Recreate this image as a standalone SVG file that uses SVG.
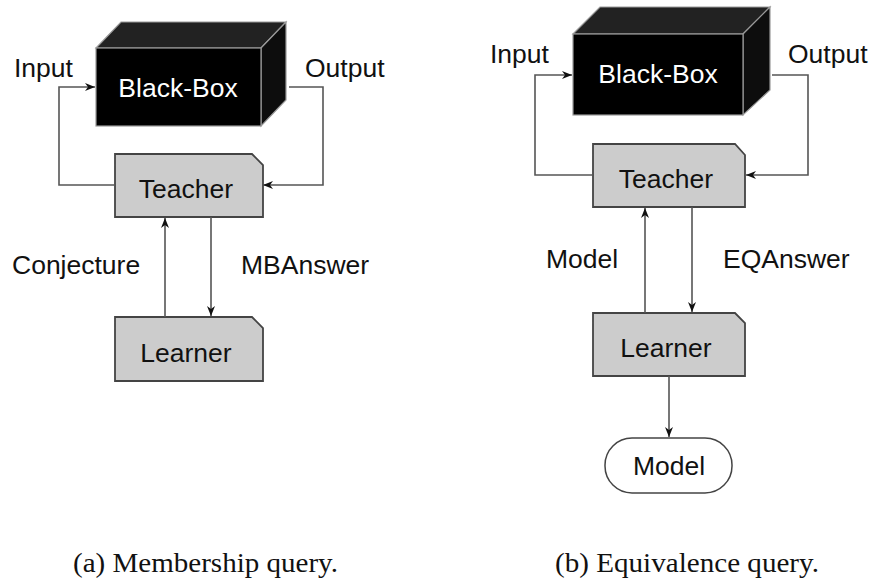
<svg xmlns="http://www.w3.org/2000/svg" width="874" height="581" viewBox="0 0 874 581">
  <defs>
    <style>
      .lbl { font-family: "Liberation Sans", Arial, sans-serif; font-size: 26.5px; fill: #111; }
      .wht { font-family: "Liberation Sans", Arial, sans-serif; font-size: 26.5px; fill: #fff; }
      .cap { font-family: "Liberation Serif", "Times New Roman", serif; font-size: 27px; fill: #111; }
      .box { fill: #cccccc; stroke: #444; stroke-width: 1.8; }
      .front { fill: #000; stroke: #999; stroke-width: 1.2; }
      .top { fill: #222; stroke: #999; stroke-width: 1.2; }
      .side { fill: #0d0d0d; stroke: #999; stroke-width: 1.2; }
      .term { fill: #fff; stroke: #444; stroke-width: 1.5; }
      .wire { fill: none; stroke: #555; stroke-width: 1.6; }
      .wire.arr { marker-end: url(#head); }
    </style>
    <marker id="head" viewBox="0 0 10 10" refX="10" refY="5" markerWidth="10" markerHeight="10" markerUnits="userSpaceOnUse" orient="auto">
      <path d="M0,1 L10,5 L0,9 L3,5 z" fill="#111"/>
    </marker>
  </defs>

  <!-- (a) Membership query -->
  <g id="a-blackbox">
    <polygon class="top" points="96,48 121,22 286,22 261,48"/>
    <polygon class="side" points="261,48 286,22 286,100 261,126"/>
    <rect class="front" x="96" y="48" width="165" height="78"/>
    <text class="wht" x="178" y="97" text-anchor="middle">Black-Box</text>
  </g>
  <g id="a-teacher">
    <path class="box" d="M115,154 H252 L263,165 V217 H115 Z"/>
    <text class="lbl" x="186" y="198" text-anchor="middle">Teacher</text>
  </g>
  <g id="a-learner">
    <path class="box" d="M115,317 H252 L263,328 V381 H115 Z"/>
    <text class="lbl" x="186" y="362" text-anchor="middle">Learner</text>
  </g>
  <g id="a-connectors">
    <path class="wire arr" d="M115,185 H59 V87 H95"/>
    <path class="wire arr" d="M289,87 H323 V185 H263"/>
    <path class="wire arr" d="M165,317 V218"/>
    <path class="wire arr" d="M211,217 V316"/>
  </g>
  <g id="a-labels">
    <text class="lbl" x="14" y="77">Input</text>
    <text class="lbl" x="305" y="77">Output</text>
    <text class="lbl" x="12" y="274">Conjecture</text>
    <text class="lbl" x="241" y="274">MBAnswer</text>
  </g>
  <text class="cap" x="73" y="572" textLength="265" lengthAdjust="spacingAndGlyphs">(a) Membership query.</text>

  <!-- (b) Equivalence query -->
  <g id="b-blackbox">
    <polygon class="top" points="573,34 600,7 770,7 743,34"/>
    <polygon class="side" points="743,34 770,7 770,90 743,115"/>
    <rect class="front" x="573" y="34" width="170" height="81"/>
    <text class="wht" x="658" y="83" text-anchor="middle">Black-Box</text>
  </g>
  <g id="b-teacher">
    <path class="box" d="M593,144 H735 L745,155 V207 H593 Z"/>
    <text class="lbl" x="666" y="188" text-anchor="middle">Teacher</text>
  </g>
  <g id="b-learner">
    <path class="box" d="M593,313 H735 L745,323 V376 H593 Z"/>
    <text class="lbl" x="666" y="357" text-anchor="middle">Learner</text>
  </g>
  <g id="b-model">
    <rect class="term" x="605" y="438" width="127" height="55" rx="27" ry="27"/>
    <text class="lbl" x="669" y="475" text-anchor="middle">Model</text>
  </g>
  <g id="b-connectors">
    <path class="wire arr" d="M593,175 H535 V75 H572"/>
    <path class="wire arr" d="M772,75 H808 V175 H746"/>
    <path class="wire arr" d="M645,313 V208"/>
    <path class="wire arr" d="M692,207 V312"/>
    <path class="wire arr" d="M669,376 V437"/>
  </g>
  <g id="b-labels">
    <text class="lbl" x="490" y="63">Input</text>
    <text class="lbl" x="788" y="63">Output</text>
    <text class="lbl" x="546" y="268">Model</text>
    <text class="lbl" x="723" y="268">EQAnswer</text>
  </g>
  <text class="cap" x="555" y="572" textLength="264" lengthAdjust="spacingAndGlyphs">(b) Equivalence query.</text>
</svg>
